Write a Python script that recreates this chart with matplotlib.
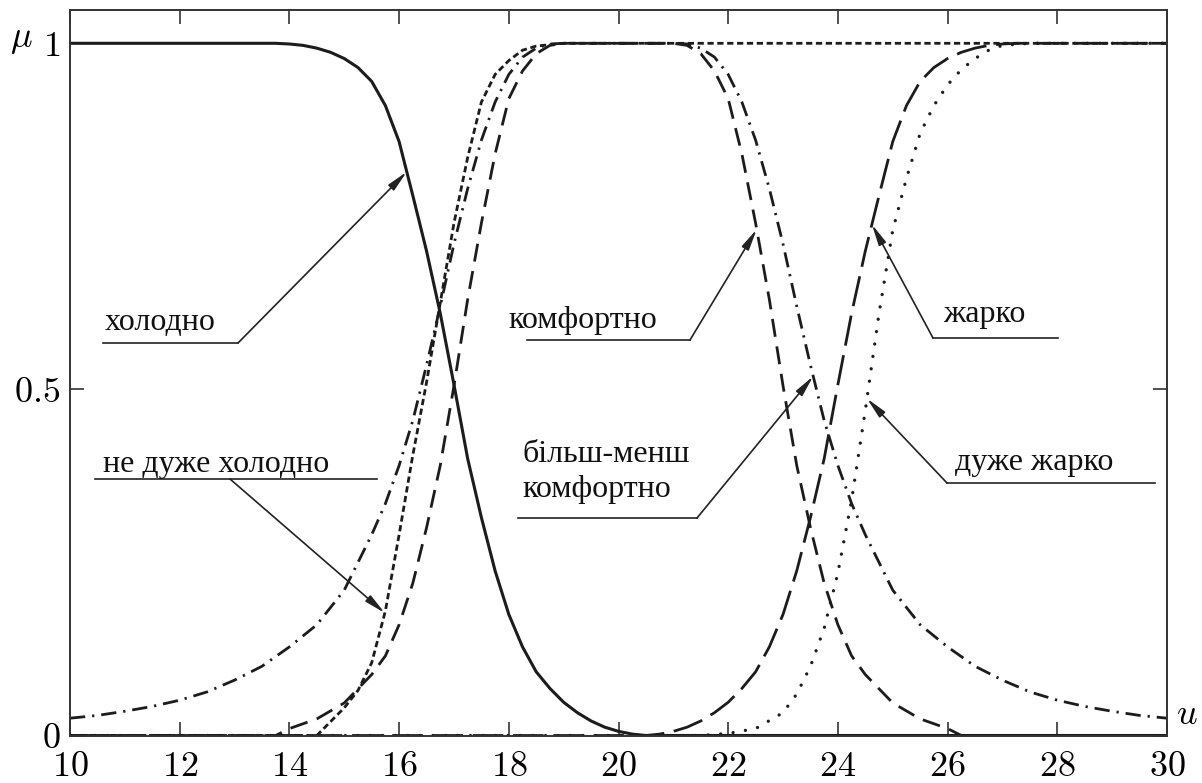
import numpy as np
import matplotlib
matplotlib.use("Agg")
import matplotlib.pyplot as plt

plt.rcParams['font.family'] = ['Liberation Serif', 'DejaVu Serif']
plt.rcParams['mathtext.fontset'] = 'cm'
plt.rcParams['lines.scale_dashes'] = False

# ---------------- data ----------------
cold_x = [10, 13.75, 14, 14.25, 14.5, 14.75, 15, 15.25, 15.5, 15.75, 16, 16.25, 16.5, 16.75,
          17, 17.25, 17.5, 17.75, 18, 18.25, 18.5, 18.75, 19, 19.25, 19.5, 19.75, 20,
          20.25, 20.5, 30]
cold_y = [1, 1, 0.999, 0.997, 0.993, 0.987, 0.978, 0.965, 0.945, 0.91, 0.858, 0.78, 0.70, 0.61,
          0.507, 0.40, 0.315, 0.238, 0.175, 0.128, 0.092, 0.068, 0.048, 0.033, 0.021, 0.012,
          0.006, 0.002, 0, 0]

notcold_x = [10, 14.5, 14.75, 15, 15.25, 15.5, 15.75, 16, 16.25, 16.5, 16.75, 17, 17.25,
             17.5, 17.75, 18, 18.25, 18.5, 19, 30]
notcold_y = [0, 0, 0.02, 0.04, 0.065, 0.105, 0.18, 0.29, 0.405, 0.51, 0.625, 0.74, 0.835,
             0.915, 0.955, 0.975, 0.99, 0.996, 1, 1]

comf_x = [10, 13.75, 14, 14.5, 15, 15.5, 15.75, 16, 16.25, 16.5, 16.75, 17, 17.25, 17.5,
          17.75, 18, 18.25, 18.5, 18.75, 19, 21, 21.25, 21.5, 21.75, 22, 22.25, 22.5,
          22.75, 23, 23.25, 23.5, 23.75, 24, 24.25, 24.5, 25, 25.5, 26, 26.25, 30]
comf_y = [0, 0, 0.01, 0.024, 0.047, 0.088, 0.115, 0.16, 0.22, 0.30, 0.39, 0.505, 0.63, 0.74,
          0.84, 0.92, 0.96, 0.985, 0.997, 1, 1, 0.997, 0.985, 0.96, 0.92, 0.84, 0.74,
          0.63, 0.505, 0.39, 0.30, 0.22, 0.16, 0.115, 0.088, 0.047, 0.024, 0.01, 0, 0]

mlcomf_x = [10, 10.5, 11, 11.5, 12, 12.5, 13, 13.5, 14, 14.5, 15, 15.5, 15.75, 16, 16.25,
            16.5, 16.75, 17, 17.25, 17.5, 17.75, 18, 18.25, 18.5, 18.75, 19,
            21, 21.25, 21.5, 21.75, 22, 22.25, 22.5, 22.75, 23, 23.25, 23.5, 23.75, 24,
            24.25, 24.5, 25, 25.5, 26, 26.5, 27, 27.5, 28, 28.5, 29, 29.5, 30]
mlcomf_y = [0.025, 0.029, 0.035, 0.042, 0.051, 0.063, 0.08, 0.10, 0.128, 0.16, 0.21, 0.29,
            0.335, 0.39, 0.455, 0.535, 0.62, 0.71, 0.79, 0.86, 0.915, 0.955, 0.98, 0.993,
            0.999, 1.0,
            1.0, 0.999, 0.993, 0.98, 0.955, 0.915, 0.86, 0.79, 0.71, 0.62, 0.535, 0.455,
            0.39, 0.335, 0.29, 0.21, 0.16, 0.128, 0.10, 0.08, 0.063, 0.051, 0.042, 0.035,
            0.029, 0.025]

hot_x = [10, 20.5, 20.75, 21, 21.25, 21.5, 21.75, 22, 22.25, 22.5, 22.75, 23, 23.25, 23.5,
         23.75, 24, 24.25, 24.5, 24.75, 25, 25.25, 25.5, 25.75, 26, 26.25, 26.5, 26.75, 27,
         27.25, 30]
hot_y = [0, 0, 0.002, 0.006, 0.012, 0.021, 0.033, 0.048, 0.068, 0.092, 0.128, 0.175, 0.238,
         0.315, 0.40, 0.507, 0.61, 0.70, 0.78, 0.858, 0.91, 0.945, 0.965, 0.978, 0.987,
         0.993, 0.997, 0.999, 1, 1]

vhot_x = [10, 21.5, 22, 22.5, 23, 23.25, 23.5, 23.75, 24, 24.25, 24.5, 24.75, 25, 25.25,
          25.5, 25.75, 26, 26.25, 26.5, 26.75, 27, 27.5, 30]
vhot_y = [0, 0, 0.003, 0.01, 0.033, 0.06, 0.10, 0.155, 0.235, 0.34, 0.47, 0.61, 0.73, 0.805,
          0.87, 0.91, 0.94, 0.962, 0.978, 0.99, 0.997, 1, 1]

x_ticks = [10, 12, 14, 16, 18, 20, 22, 24, 26, 28, 30]
y_ticks = [0, 0.5, 1]
y_tick_labels = ['0', '0.5', '1']

# ---------------- figure ----------------
W, H = 1202, 783
fig = plt.figure(figsize=(W / 100, H / 100), dpi=100)
AX_L, AX_R, Y0, Y1 = 70, 1167, 735.5, 43.3
top_px = 10
ax = fig.add_axes([AX_L / W, (H - Y0) / H, (AX_R - AX_L) / W, (Y0 - top_px) / H])
ymax = (Y0 - top_px) / (Y0 - Y1)
ax.set_xlim(10, 30)
ax.set_ylim(0, ymax)

def px2d(px, py):
    return 10 + (px - AX_L) / (AX_R - AX_L) * 20, (Y0 - py) / (Y0 - Y1)

ink = '#1c1c1c'
lw = 2.0
ax.plot(cold_x, cold_y, color=ink, lw=2.2, solid_capstyle='butt')
ax.plot(notcold_x, notcold_y, color=ink, lw=lw, linestyle=(0, (4.5, 2.6)))
ax.plot(comf_x, comf_y, color=ink, lw=lw, linestyle=(0, (13, 7)))
ax.plot(mlcomf_x, mlcomf_y, color=ink, lw=lw, linestyle=(0, (11, 5, 1.6, 5)))
ax.plot(hot_x, hot_y, color=ink, lw=lw, linestyle=(0, (22, 7)))
ax.plot(vhot_x, vhot_y, color=ink, lw=2.4, linestyle=(0, (0.01, 9)),
        dash_capstyle='round')

for s in ax.spines.values():
    s.set_linewidth(1.4)
    s.set_color('#333333')

ax.set_xticks(x_ticks)
ax.set_xticklabels([f'${t}$' for t in x_ticks], fontsize=26)
ax.set_yticks(y_ticks)
ax.set_yticklabels([f'${t}$' for t in y_tick_labels], fontsize=26)
ax.tick_params(axis='x', direction='in', top=True, length=10, width=1.2, pad=11,
               color='#333333')
ax.tick_params(axis='y', direction='in', right=True, length=10, width=1.2, pad=7,
               color='#333333')

fig.text(21 / W, 1 - 40 / H, r'$\mu$', fontsize=26, ha='center', va='center')
fig.text(1187 / W, 1 - 716 / H, r'$u$', fontsize=26, ha='center', va='center')

# ---------------- annotations ----------------
fs = 23
def label(text, left, base, ul_start, ul_end, leader_start, tip):
    tx, ty = px2d(left, base)
    ax.text(tx, ty, text, fontsize=fs, ha='left', va='baseline', color='#111111',
            linespacing=1.0)
    a = px2d(*ul_start)
    b = px2d(*ul_end)
    ax.plot([a[0], b[0]], [a[1], b[1]], color='#222222', lw=1.2)
    s = px2d(*leader_start)
    ax.annotate('', xy=tip, xytext=s,
                arrowprops=dict(arrowstyle='-|>,head_length=0.9,head_width=0.17',
                                lw=1.2, color='#222222', shrinkA=0, shrinkB=0,
                                mutation_scale=14))

def on(xs, ys, x):
    return (x, float(np.interp(x, xs, ys)))

label('холодно', 105, 330, (103, 343), (238, 343), (238, 343), on(cold_x, cold_y, 16.14))
label('не дуже холодно', 103, 472, (95, 479), (377, 479), (230, 479),
      on(notcold_x, notcold_y, 15.74))
label('комфортно', 508, 328, (527, 340), (690, 340), (690, 340), on(comf_x, comf_y, 22.52))
ax.text(*px2d(522, 462), 'більш-менш', fontsize=fs, ha='left', va='baseline', color='#111111')
label('комфортно', 522, 497, (518, 518), (697, 518), (697, 518),
      on(mlcomf_x, mlcomf_y, 23.55))
label('жарко', 943, 322, (933, 338), (1058, 338), (933, 338), on(hot_x, hot_y, 24.62))
label('дуже жарко', 955, 470, (947, 483), (1155, 483), (947, 483),
      on(vhot_x, vhot_y, 24.53))

fig.savefig('out.png', dpi=100)
